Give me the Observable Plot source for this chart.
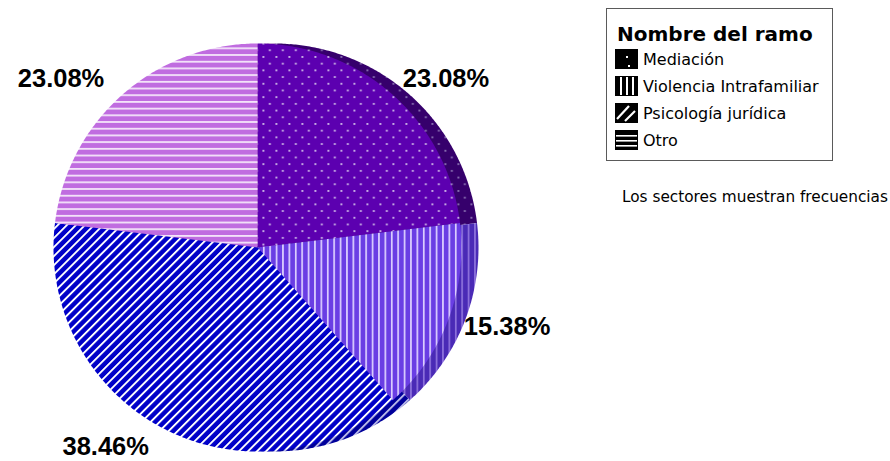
<!DOCTYPE html>
<html>
<head>
<meta charset="utf-8">
<script src="https://cdn.jsdelivr.net/npm/d3@7"></script>
<script src="https://cdn.jsdelivr.net/npm/@observablehq/plot@0.6"></script>
<style>
  body { margin: 0; background: #fff; }
  #wrap { position: relative; width: 890px; height: 461px; overflow: hidden; }
  #wrap > svg.overlay { position: absolute; left: 0; top: 0; }
</style>
</head>
<body>
<div id="wrap"></div>
<script>
// ---- data ----
const categories = ["Mediación", "Violencia Intrafamiliar", "Psicología jurídica", "Otro"];
const percents = [23.08, 15.38, 38.46, 23.08];
const labels = ["23.08%", "15.38%", "38.46%", "23.08%"];
const legendTitle = "Nombre del ramo";
const caption = "Los sectores muestran frecuencias";

// ---- styles ----
const patternKinds = ["dots", "vlines", "diag", "hlines"];
const baseColors  = ["#5c00b0", "#6a3ee4", "#0000c8", "#c06ce0"];
const lineColors  = ["#e4dcf2", "#dccfff", "#ffffff", "#f4e4fa"];
const shadeColors = ["#36006c", "#4a2ab6", "#00009a", "#8a48a8"];
const shadeLines  = ["#9a88c0", "#8d72dc", "#b8b8e8", "#c8a0d8"];

const W = 890, H = 461;
const CX = 257, CY = 247, R = 204;      // pie centre / radius in pixels
const shadeOffset = 17 / R;              // shadow shift (data units)
const labelRadius = 225 / R;

// ---- geometry from data ----
const arcs = d3.pie().sort(null).value(d => d)(percents);
function slicePoints(a, dx = 0) {
  const pts = [{x: dx, y: 0}];
  const n = Math.max(2, Math.ceil((a.endAngle - a.startAngle) / (Math.PI / 360)));
  for (let k = 0; k <= n; k++) {
    const t = a.startAngle + (a.endAngle - a.startAngle) * k / n;
    pts.push({x: Math.sin(t) + dx, y: Math.cos(t)});
  }
  pts.push({x: dx, y: 0});
  return pts;
}
const labelData = arcs.map((a, i) => {
  const m = (a.startAngle + a.endAngle) / 2;
  return {x: Math.sin(m) * labelRadius, y: Math.cos(m) * labelRadius, text: labels[i], right: Math.sin(m) >= 0};
});

const marks = [];
arcs.forEach((a, i) => marks.push(Plot.line(slicePoints(a, shadeOffset), {x: "x", y: "y", fill: `url(#shade${i})`, stroke: "none"})));
arcs.forEach((a, i) => marks.push(Plot.line(slicePoints(a), {x: "x", y: "y", fill: `url(#main${i})`, stroke: "none"})));
const textOpts = {x: "x", y: "y", text: "text", fontSize: 25.5, fontWeight: "bold", fontFamily: "Liberation Sans, Arial, sans-serif", fill: "#000", dx: -4, dy: 0};
marks.push(Plot.text(labelData.filter(d => d.right), {...textOpts, textAnchor: "start"}));
marks.push(Plot.text(labelData.filter(d => !d.right), {...textOpts, textAnchor: "end"}));

const chart = Plot.plot({
  width: W, height: H, margin: 0,
  x: {domain: [-CX / R, (W - CX) / R], range: [0, W], axis: null},
  y: {domain: [-(H - CY) / R, CY / R], range: [H, 0], axis: null},
  marks
});

// ---- patterns ----
function addPattern(defs, id, kind, bg, fg) {
  let p;
  if (kind === "dots") {
    p = defs.append("pattern").attr("id", id).attr("patternUnits", "userSpaceOnUse").attr("width", 13).attr("height", 13.4);
    p.append("rect").attr("width", 13).attr("height", 13.4).attr("fill", bg);
    p.append("rect").attr("x", 2).attr("y", 2).attr("width", 1.7).attr("height", 1.7).attr("fill", fg);
    p.append("rect").attr("x", 8.5).attr("y", 8.7).attr("width", 1.7).attr("height", 1.7).attr("fill", fg);
  } else if (kind === "vlines") {
    p = defs.append("pattern").attr("id", id).attr("patternUnits", "userSpaceOnUse").attr("width", 6.4).attr("height", 10);
    p.append("rect").attr("width", 6.4).attr("height", 10).attr("fill", bg);
    p.append("rect").attr("x", 0).attr("width", 1.7).attr("height", 10).attr("fill", fg);
  } else if (kind === "diag") {
    p = defs.append("pattern").attr("id", id).attr("patternUnits", "userSpaceOnUse").attr("width", 10).attr("height", 6.4).attr("patternTransform", "rotate(-45)");
    p.append("rect").attr("width", 10).attr("height", 6.4).attr("fill", bg);
    p.append("rect").attr("y", 0).attr("width", 10).attr("height", 1.9).attr("fill", fg);
  } else {
    p = defs.append("pattern").attr("id", id).attr("patternUnits", "userSpaceOnUse").attr("width", 10).attr("height", 6.7);
    p.append("rect").attr("width", 10).attr("height", 6.7).attr("fill", bg);
    p.append("rect").attr("y", 0).attr("width", 10).attr("height", 1.8).attr("fill", fg);
  }
}
const defs = d3.select(chart).insert("defs", ":first-child");
patternKinds.forEach((k, i) => {
  addPattern(defs, `main${i}`, k, baseColors[i], lineColors[i]);
  addPattern(defs, `shade${i}`, k, shadeColors[i], shadeLines[i]);
});

document.getElementById("wrap").appendChild(chart);

// ---- legend + caption overlay ----
const ov = d3.select("#wrap").append("svg").attr("class", "overlay").attr("width", W).attr("height", H)
  .style("font-family", "DejaVu Sans, Verdana, sans-serif");
const sw = 23, sh = 20;
const lg = ov.append("g").attr("transform", "translate(606,8)");
lg.append("rect").attr("x", 0.5).attr("y", 0.5).attr("width", 226).attr("height", 152)
  .attr("fill", "#fff").attr("stroke", "#5a5a5a").attr("stroke-width", 1);
lg.append("text").attr("x", 11).attr("y", 33).attr("font-size", 20).attr("font-weight", "bold").attr("fill", "#000").text(legendTitle);
categories.forEach((c, i) => {
  const y0 = 41 + i * 27;
  const g = lg.append("g").attr("transform", `translate(9,${y0})`);
  g.append("rect").attr("width", sw).attr("height", sh).attr("fill", "#000");
  const kind = patternKinds[i];
  if (kind === "dots") {
    g.append("rect").attr("x", 11).attr("y", 7).attr("width", 2).attr("height", 2).attr("fill", "#fff");
    g.append("rect").attr("x", 13).attr("y", 16).attr("width", 2).attr("height", 2).attr("fill", "#fff");
  } else if (kind === "vlines") {
    [5, 11, 17].forEach(x => g.append("rect").attr("x", x).attr("y", 1).attr("width", 2).attr("height", sh - 2).attr("fill", "#fff"));
  } else if (kind === "diag") {
    g.append("line").attr("x1", 2).attr("y1", 16).attr("x2", 14).attr("y2", 3).attr("stroke", "#fff").attr("stroke-width", 2.2);
    g.append("line").attr("x1", 10).attr("y1", 18).attr("x2", 20).attr("y2", 8).attr("stroke", "#fff").attr("stroke-width", 2.2);
  } else {
    [5, 10, 15].forEach(y => g.append("rect").attr("x", 1).attr("y", y).attr("width", sw - 2).attr("height", 1.6).attr("fill", "#fff"));
  }
  lg.append("text").attr("x", 37).attr("y", y0 + 16).attr("font-size", 16).attr("fill", "#000").text(c);
});
ov.append("text").attr("x", 622).attr("y", 202).attr("font-size", 15.3).attr("fill", "#000").text(caption);
</script>
</body>
</html>
